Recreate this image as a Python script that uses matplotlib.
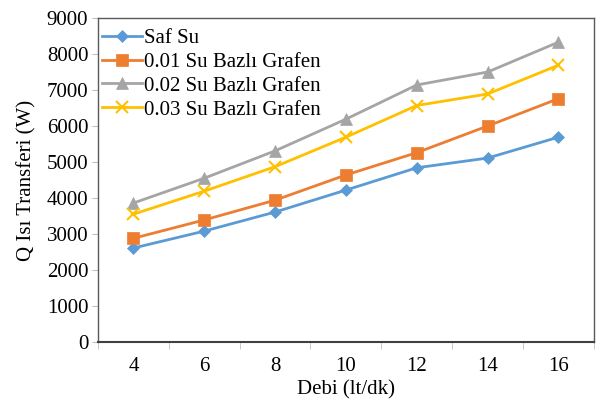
import matplotlib
matplotlib.use("Agg")
import matplotlib.pyplot as plt
from matplotlib.ticker import FixedLocator, MultipleLocator

# debi (lt/dk) categories
debi = ["4", "6", "8", "10", "12", "14", "16"]

saf_su = [2610, 3080, 3610, 4220, 4840, 5110, 5690]
grafen_001 = [2880, 3390, 3940, 4640, 5260, 6000, 6760]
grafen_002 = [3860, 4550, 5310, 6190, 7140, 7500, 8330]
grafen_003 = [3550, 4190, 4870, 5690, 6570, 6890, 7690]

labels = ["Saf Su", "0.01 Su Bazlı Grafen", "0.02 Su Bazlı Grafen",
          "0.03 Su Bazlı Grafen"]
colors = ["#5B9BD5", "#ED7D31", "#A5A5A5", "#FFC000"]
markers = ["D", "s", "^", "x"]
msizes = [6, 9, 8, 9]

plt.rcParams["font.family"] = ["Liberation Serif", "DejaVu Serif"]

fig = plt.figure(figsize=(5.96, 4.08), dpi=100)
ax = fig.add_axes([0.1644, 0.1618, 0.832, 0.794])

x = list(range(len(debi)))
for vals, lab, c, m, ms in zip([saf_su, grafen_001, grafen_002, grafen_003],
                               labels, colors, markers, msizes):
    ax.plot(x, vals, color=c, marker=m, markersize=ms, linewidth=2,
            markeredgewidth=1.5 if m == "x" else 0.5, label=lab)

ax.set_xlim(-0.5, len(debi) - 0.5)
ax.set_ylim(0, 9000)
ax.set_xticks(x)
ax.set_xticklabels(debi)
ax.xaxis.set_minor_locator(FixedLocator([i - 0.5 for i in range(len(debi) + 1)]))
ax.tick_params(axis="x", which="major", length=0, pad=11, labelsize=15)
ax.tick_params(axis="x", which="minor", length=5, color="#BFBFBF")
ax.yaxis.set_major_locator(MultipleLocator(1000))
ax.tick_params(axis="y", length=4, color="#BFBFBF", labelsize=15, pad=3)

for s in ax.spines.values():
    s.set_color("#595959")
    s.set_linewidth(1)
ax.spines["bottom"].set_color("#404040")
ax.spines["bottom"].set_linewidth(1.5)

ax.set_xlabel("Debi (lt/dk)", fontsize=15, labelpad=3)
ax.set_ylabel("Q Isı Transferi (W)", fontsize=15, labelpad=7)

ax.legend(loc="upper left", bbox_to_anchor=(0.0, 0.98), frameon=False,
          fontsize=15, handlelength=1.9, handletextpad=0.1,
          labelspacing=0.2, borderaxespad=0.1, borderpad=0.1)

fig.savefig("out.png", dpi=100)
